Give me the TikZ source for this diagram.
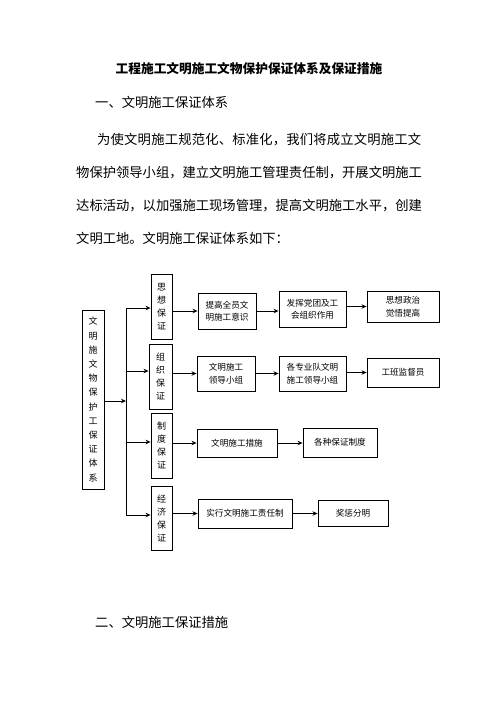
\documentclass[tikz,border=0pt]{standalone}
\usepackage{fontspec}
\setmainfont{Noto Sans CJK SC}
\usetikzlibrary{arrows.meta}
\begin{document}
\begin{tikzpicture}[x=1pt,y=-1pt,
  box/.style={draw,line width=0.9pt,inner sep=0pt,align=center,font=\fontsize{8.6}{12.5}\selectfont},
  vbox/.style={box,font=\fontsize{9}{13}\selectfont},
  arr/.style={line width=0.9pt,-{Stealth[length=5pt,width=4.5pt]}},
  trunk/.style={line width=0.9pt},
  body/.style={anchor=west,inner sep=0pt,font=\fontsize{13.3}{16}\selectfont}]
\useasboundingbox (0,0) rectangle (496,702);
\fill[white] (0,0) rectangle (496,702);

% text
\node[inner sep=0pt,font=\fontsize{12.7}{15}\selectfont\bfseries] (title) at (249,69) {工程施工文明施工文物保护保证体系及保证措施};
\node[body] (h1) at (95,102) {一、文明施工保证体系};
\node[body] (p1) at (97,140) {\addfontfeature{LetterSpace=1.6}为使文明施工规范化、标准化，我们将成立文明施工文};
\node[body] (p2) at (76,173) {物保护领导小组，建立文明施工管理责任制，开展文明施工};
\node[body] (p3) at (76,206) {达标活动，以加强施工现场管理，提高文明施工水平，创建};
\node[body] (p4) at (76,238) {文明工地。文明施工保证体系如下：};
\node[body] (h2) at (95,622) {二、文明施工保证措施};

% left box
\node[box,font=\fontsize{9}{14.2}\selectfont,minimum width=22pt,minimum height=179pt] (L) at (93,399.5)
  {文\\明\\施\\文\\物\\保\\护\\工\\保\\证\\体\\系};

% categories
\node[vbox,minimum width=21pt,minimum height=65pt] (c1) at (161.5,306.5) {思\\想\\保\\证};
\node[vbox,minimum width=23pt,minimum height=65pt] (c2) at (160.5,376.5) {组\\织\\保\\证};
\node[vbox,minimum width=21pt,minimum height=65pt] (c3) at (161.5,445.5) {制\\度\\保\\证};
\node[vbox,minimum width=21pt,minimum height=64pt] (c4) at (161.5,518) {经\\济\\保\\证};

% second column
\node[box,minimum width=58pt,minimum height=36pt] (r1) at (227,311) {提高全员文\\明施工意识};
\node[box,minimum width=58pt,minimum height=35pt] (r2) at (226,373.5) {文明施工\\领导小组};
\node[box,minimum width=80pt,minimum height=28pt] (r3) at (237,443) {文明施工措施};
\node[box,minimum width=94pt,minimum height=29pt] (r4) at (245,513.5) {实行文明施工责任制};

% third column
\node[box,minimum width=67pt,minimum height=36pt] (s1) at (312.5,309) {发挥党团及工\\会组织作用};
\node[box,minimum width=67pt,minimum height=35pt] (s2) at (312.5,373.5) {各专业队文明\\施工领导小组};
\node[box,minimum width=74pt,minimum height=29pt] (s3) at (340,442.5) {各种保证制度};
\node[box,minimum width=70pt,minimum height=26pt] (s4) at (353,513) {奖惩分明};

% fourth column
\node[box,minimum width=72pt,minimum height=31pt] (u1) at (403,306.5) {思想政治\\觉悟提高};
\node[box,minimum width=72pt,minimum height=29pt] (u2) at (403,372.5) {工班监督员};

% trunk
\coordinate (t1) at (126,308);
\coordinate (t2) at (126,371);
\coordinate (t3) at (126,442);
\coordinate (t4) at (126,515);
\coordinate (tm) at (126,401);
\draw[trunk] (t1) -- (t4);
\draw[arr] (L.east |- tm) -- (tm);
\draw[arr] (t1) -- (t1 -| c1.west);
\draw[arr] (t2) -- (t2 -| c2.west);
\draw[arr] (t3) -- (t3 -| c3.west);
\draw[arr] (t4) -- (t4 -| c4.west);

% rows
\draw[arr] (r1.west -| c1.east) -- (r1.west);
\draw[arr] (r2.west -| c2.east) -- (r2.west);
\draw[arr] (r3.west -| c3.east) -- (r3.west);
\draw[arr] (r4.west -| c4.east) -- (r4.west);

\draw[arr] (r1.east) -- (r1.east -| s1.west);
\draw[arr] (r2.east) -- (r2.east -| s2.west);
\draw[arr] (r3.east) -- (r3.east -| s3.west);
\draw[arr] (r4.east) -- (r4.east -| s4.west);

\draw[arr] (u1.west -| s1.east) -- (u1.west);
\draw[arr] (u2.west -| s2.east) -- (u2.west);
\end{tikzpicture}
\end{document}
